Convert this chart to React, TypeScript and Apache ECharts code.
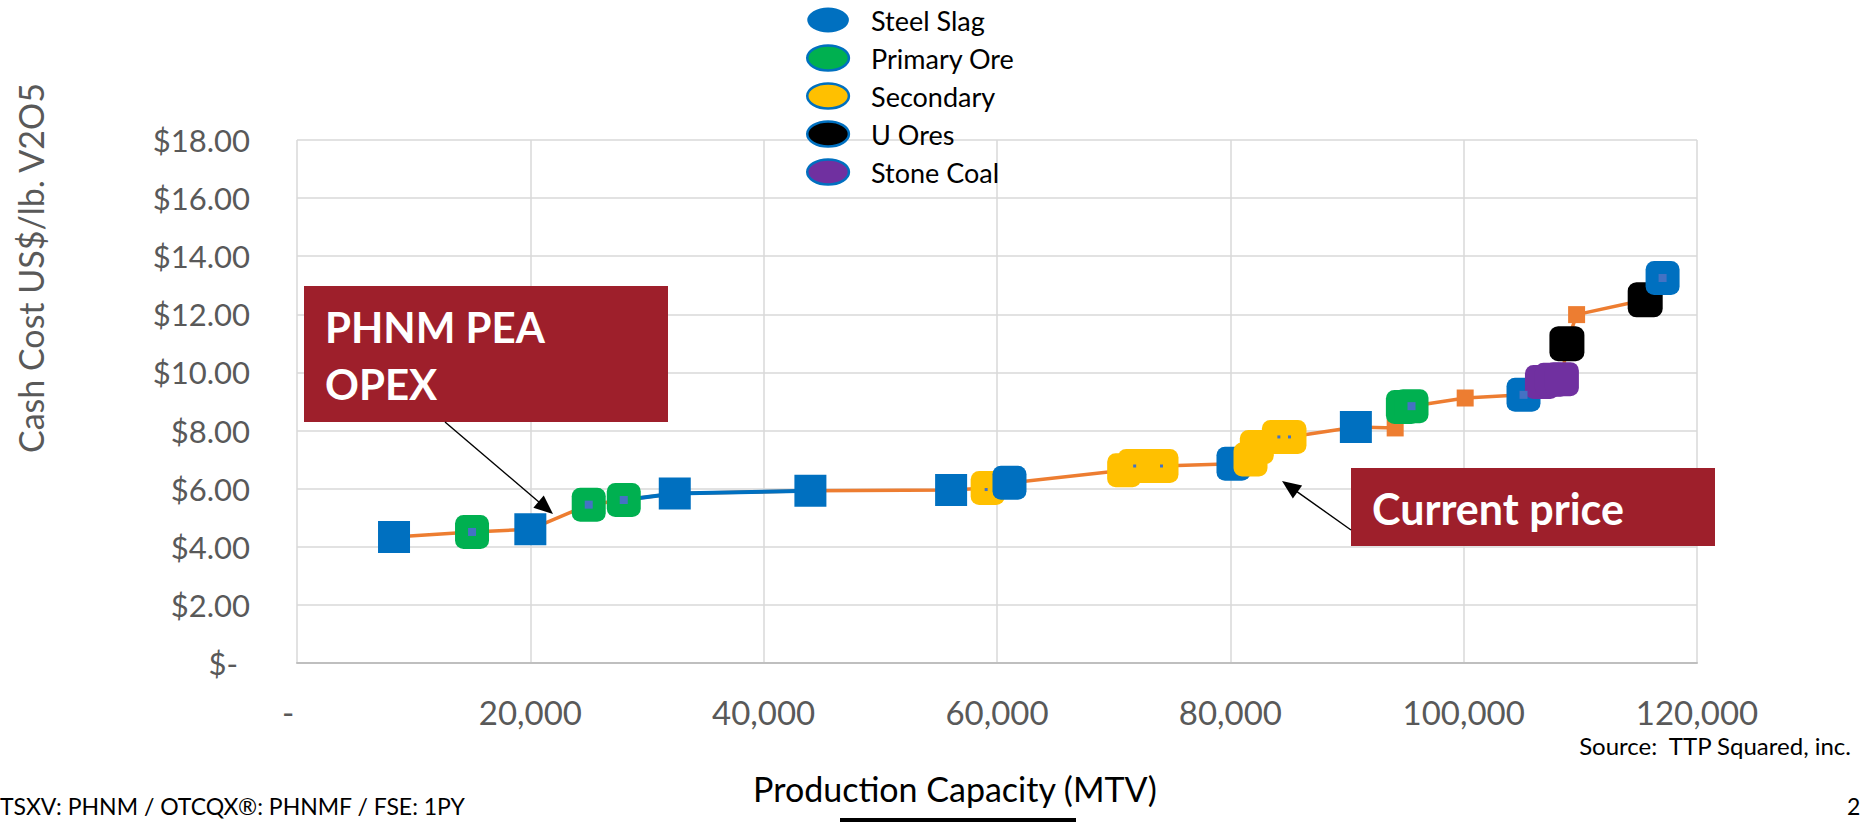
import React, { useEffect, useRef } from 'react';
import * as echarts from 'echarts';

const FONT = 'Lato, "Open Sans", sans-serif';

// ---- data ----
const xTicks = [0, 20000, 40000, 60000, 80000, 100000, 120000];
const yTicks = [0, 2, 4, 6, 8, 10, 12, 14, 16, 18];

// Orange cost curve (connecting line with small orange squares)
const curveX = [8316, 15003, 20000, 25005, 28008, 32380, 44006, 56067, 59200, 61070, 70900, 71800, 73000, 74100, 80270, 81730, 82270, 84160, 85070, 90760, 94130, 94790, 95530, 100130, 105130, 106710, 107570, 108420, 108850, 109680, 115560, 117050];
const curveY = [4.34, 4.51, 4.6, 5.45, 5.61, 5.83, 5.93, 5.95, 6.02, 6.2, 6.63, 6.78, 6.78, 6.78, 6.86, 7.0, 7.43, 7.78, 7.78, 8.12, 8.09, 8.81, 8.84, 9.12, 9.23, 9.67, 9.75, 9.77, 10.99, 11.99, 12.5, 13.25];

// Blue segment of the curve
const blueSegX = [28008, 32380, 44006];
const blueSegY = [5.61, 5.83, 5.93];

// Steel slag (square markers)
const slagSquareX = [8316, 20000, 32380, 44006, 56067, 90760];
const slagSquareY = [4.34, 4.6, 5.83, 5.93, 5.95, 8.12];
// Steel slag (rounded markers)
const slagRoundBackX = [80270, 105130];
const slagRoundBackY = [6.86, 9.23];
const slagRoundFrontX = [61070, 117050];
const slagRoundFrontY = [6.2, 13.25];

const primaryX = [15003, 25005, 28008, 94790, 95530];
const primaryY = [4.51, 5.45, 5.61, 8.81, 8.84];

const secondaryX = [59200, 70900, 71800, 73000, 74100, 81730, 82270, 84160, 85070];
const secondaryY = [6.02, 6.63, 6.78, 6.78, 6.78, 7.0, 7.43, 7.78, 7.78];

const uOresX = [108850, 115560];
const uOresY = [10.99, 12.5];

const stoneCoalX = [106710, 107570, 108420];
const stoneCoalY = [9.67, 9.75, 9.77];

// centre dots visible inside some markers
const bigDotX = [15003, 25005, 28008, 95530, 105130, 117050];
const bigDotY = [4.51, 5.45, 5.61, 8.84, 9.23, 13.25];
const smallDotX = [59070, 71800, 74100, 84160, 85070];
const smallDotY = [5.97, 6.78, 6.78, 7.78, 7.78];

const legendNames = ['Steel Slag', 'Primary Ore', 'Secondary', 'U Ores', 'Stone Coal'];
const legendColors = ['#0070C0', '#00B050', '#FFC000', '#000000', '#7030A0'];

const zip = (xs: number[], ys: number[]) => xs.map((x, i) => [x, ys[i]]);

const ELLIPSE = 'path://M0 50 A50 30 0 1 1 100 50 A50 30 0 1 1 0 50 Z';

function arrow(x1: number, y1: number, x2: number, y2: number) {
  const dx = x2 - x1;
  const dy = y2 - y1;
  const len = Math.sqrt(dx * dx + dy * dy);
  const ux = dx / len;
  const uy = dy / len;
  const hl = 19;
  const hw = 8;
  const bx = x2 - ux * hl;
  const by = y2 - uy * hl;
  return [
    {
      type: 'line',
      shape: { x1, y1, x2: bx + ux * 2, y2: by + uy * 2 },
      style: { stroke: '#000', lineWidth: 1.4 },
      z: 100,
    },
    {
      type: 'polygon',
      shape: {
        points: [
          [x2, y2],
          [bx - uy * hw, by + ux * hw],
          [bx + uy * hw, by - ux * hw],
        ],
      },
      style: { fill: '#000' },
      z: 100,
    },
  ];
}

export default function App() {
  const ref = useRef<HTMLDivElement>(null);

  useEffect(() => {
    if (!ref.current) return;
    const chart = echarts.init(ref.current, null, { renderer: 'svg' });

    const scatter = (name: string, xs: number[], ys: number[], color: string, symbol: string, size: number) => ({
      name,
      type: 'scatter',
      data: zip(xs, ys),
      symbol,
      symbolSize: size,
      itemStyle: { color, opacity: 1 },
      emphasis: { disabled: true },
      silent: true,
    });

    const option: any = {
      animation: false,
      backgroundColor: '#ffffff',
      grid: { left: 297, right: 167, top: 140, bottom: 159, containLabel: false },
      legend: {
        orient: 'vertical',
        left: 801,
        top: 1,
        itemWidth: 42,
        itemHeight: 25,
        itemGap: 10,
        selectedMode: false,
        textStyle: { fontFamily: FONT, fontSize: 27, color: '#000', padding: [0, 0, 0, 17], lineHeight: 28 },
        data: legendNames.map((n, i) => ({
          name: n,
          icon: ELLIPSE,
          itemStyle: { color: legendColors[i], borderColor: '#0070C0', borderWidth: i === 0 ? 0 : 2.5 },
        })),
      },
      xAxis: {
        type: 'value',
        min: xTicks[0],
        max: xTicks[xTicks.length - 1],
        interval: xTicks[1] - xTicks[0],
        axisLine: { show: true, lineStyle: { color: '#BFBFBF', width: 2 } },
        axisTick: { show: false },
        splitLine: { show: true, lineStyle: { color: '#D9D9D9', width: 1.5 } },
        axisLabel: {
          margin: 32,
          fontFamily: FONT,
          fontSize: 33,
          color: '#595959',
          formatter: (v: number) => (v === 0 ? '{d|-}' : v.toLocaleString('en-US')),
          rich: { d: { padding: [0, 18, 0, 0], fontFamily: FONT, fontSize: 33, color: '#595959' } },
        },
      },
      yAxis: {
        type: 'value',
        min: yTicks[0],
        max: yTicks[yTicks.length - 1],
        interval: yTicks[1] - yTicks[0],
        axisLine: { show: false },
        axisTick: { show: false },
        splitLine: { show: true, lineStyle: { color: '#D9D9D9', width: 1.5 } },
        axisLabel: {
          margin: 47,
          fontFamily: FONT,
          fontSize: 31,
          color: '#595959',
          formatter: (v: number) => (v === 0 ? '{z|$-}' : '$' + v.toFixed(2)),
          rich: { z: { padding: [0, 12, 0, 0], fontFamily: FONT, fontSize: 31, color: '#595959' } },
        },
      },
      series: [
        {
          name: 'curve',
          type: 'line',
          data: zip(curveX, curveY),
          symbol: 'rect',
          symbolSize: 17,
          showAllSymbol: true,
          lineStyle: { color: '#ED7D31', width: 3.5 },
          itemStyle: { color: '#ED7D31' },
          emphasis: { disabled: true },
          silent: true,
          z: 2,
        },
        {
          name: 'curveBlue',
          type: 'line',
          data: zip(blueSegX, blueSegY),
          symbol: 'none',
          lineStyle: { color: '#0070C0', width: 4 },
          emphasis: { disabled: true },
          silent: true,
          z: 2,
        },
        { ...scatter('Steel Slag', slagSquareX, slagSquareY, '#0070C0', 'rect', 32), z: 3 },
        { ...scatter('Steel Slag', slagRoundBackX, slagRoundBackY, '#0070C0', 'roundRect', 34), z: 3 },
        { ...scatter('Primary Ore', primaryX, primaryY, '#00B050', 'roundRect', 34), z: 3 },
        { ...scatter('Secondary', secondaryX, secondaryY, '#FFC000', 'roundRect', 34), z: 3 },
        { ...scatter('U Ores', uOresX, uOresY, '#000000', 'roundRect', 35), z: 3 },
        { ...scatter('Stone Coal', stoneCoalX, stoneCoalY, '#7030A0', 'roundRect', 34), z: 3 },
        { ...scatter('Steel Slag', slagRoundFrontX, slagRoundFrontY, '#0070C0', 'roundRect', 34), z: 3 },
        { ...scatter('dotsBig', bigDotX, bigDotY, '#4472C4', 'rect', 8), z: 4 },
        { ...scatter('dotsSmall', smallDotX, smallDotY, '#4472C4', 'rect', 3), z: 4 },
      ],
      graphic: [
        {
          type: 'text',
          x: 30,
          y: 268,
          rotation: Math.PI / 2,
          style: {
            text: 'Cash Cost US$/lb. V2O5',
            fontFamily: FONT,
            fontSize: 34,
            fill: '#595959',
            textAlign: 'center',
            textVerticalAlign: 'middle',
          },
        },
        {
          type: 'rect',
          shape: { x: 304, y: 286, width: 364, height: 136 },
          style: { fill: '#9E1F2B' },
          z: 99,
        },
        {
          type: 'text',
          x: 325,
          y: 298,
          style: {
            text: 'PHNM PEA\nOPEX',
            fontFamily: FONT,
            fontWeight: 'bold',
            fontSize: 42,
            lineHeight: 57,
            fill: '#ffffff',
            textAlign: 'left',
            textVerticalAlign: 'top',
          },
          z: 100,
        },
        {
          type: 'rect',
          shape: { x: 1351, y: 468, width: 364, height: 78 },
          style: { fill: '#9E1F2B' },
          z: 99,
        },
        {
          type: 'text',
          x: 1372,
          y: 508,
          style: {
            text: 'Current price',
            fontFamily: FONT,
            fontWeight: 'bold',
            fontSize: 43,
            fill: '#ffffff',
            textAlign: 'left',
            textVerticalAlign: 'middle',
          },
          z: 100,
        },
        ...arrow(445, 422, 553, 514),
        ...arrow(1351, 530, 1282, 481),
        {
          type: 'text',
          x: 955,
          y: 788,
          style: {
            text: 'Production Capacity (MTV)',
            fontFamily: FONT,
            fontSize: 34,
            fill: '#000',
            textAlign: 'center',
            textVerticalAlign: 'middle',
          },
        },
        {
          type: 'text',
          x: 1851,
          y: 745,
          style: {
            text: 'Source:  TTP Squared, inc.',
            fontFamily: FONT,
            fontSize: 24,
            fill: '#000',
            textAlign: 'right',
            textVerticalAlign: 'middle',
          },
        },
        {
          type: 'text',
          x: 0,
          y: 806,
          style: {
            text: 'TSXV: PHNM / OTCQX®: PHNMF / FSE: 1PY',
            fontFamily: FONT,
            fontSize: 23,
            fill: '#000',
            textAlign: 'left',
            textVerticalAlign: 'middle',
          },
        },
        {
          type: 'text',
          x: 1847,
          y: 806,
          style: {
            text: '2',
            fontFamily: FONT,
            fontSize: 23,
            fill: '#000',
            textAlign: 'left',
            textVerticalAlign: 'middle',
          },
        },
        {
          type: 'rect',
          shape: { x: 840, y: 818, width: 236, height: 4 },
          style: { fill: '#000' },
        },
      ],
    };

    chart.setOption(option);
    return () => chart.dispose();
  }, []);

  return (
    <div
      ref={ref}
      style={{ position: 'fixed', left: 0, top: 0, width: '1864px', height: '822px', background: '#fff' }}
    />
  );
}
